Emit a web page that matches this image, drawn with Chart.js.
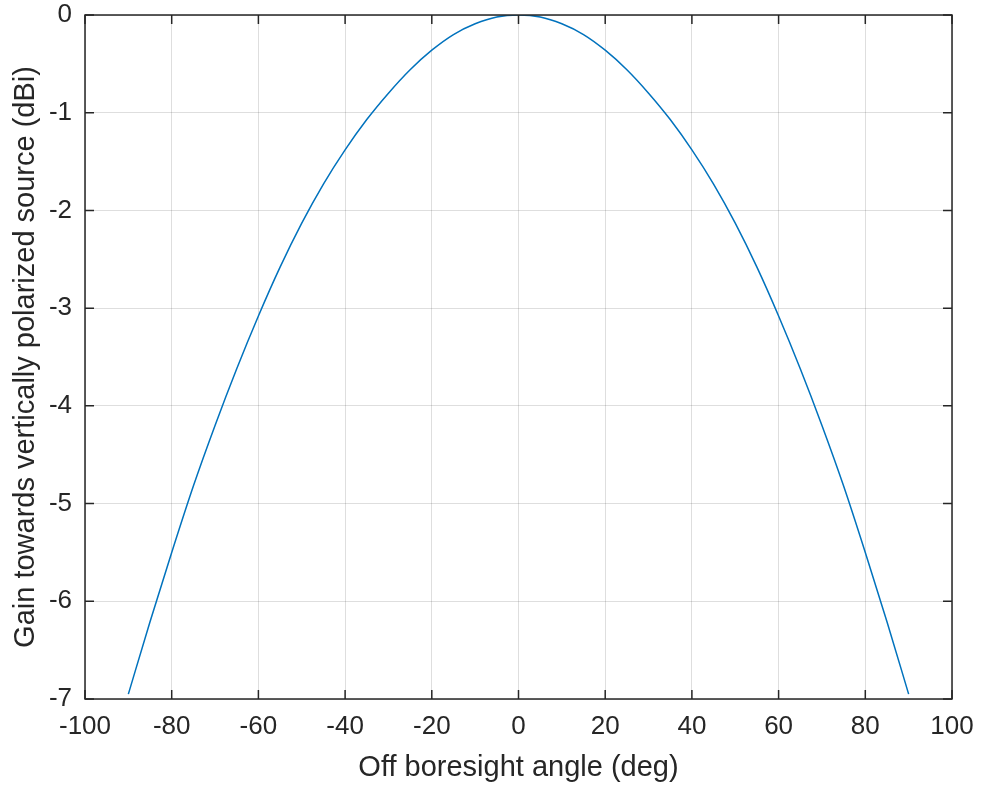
<!DOCTYPE html>
<html>
<head>
<meta charset="utf-8">
<script src="https://cdn.jsdelivr.net/npm/chart.js@4.4.1/dist/chart.umd.min.js"></script>
<style>
  html, body { margin: 0; padding: 0; background: #fff; }
  #wrap { width: 981px; height: 790px; }
</style>
</head>
<body>
<div id="wrap"><canvas id="gainChart"></canvas></div>
<script>
// angles (deg) and gain (dBi)
var angles = [-90, -85, -80, -75, -70, -65, -60, -55, -50, -45, -40, -35, -30, -25, -20, -15, -10, -5, 0,
              5, 10, 15, 20, 25, 30, 35, 40, 45, 50, 55, 60, 65, 70, 75, 80, 85, 90];
var gain = [-6.95, -6.21, -5.50, -4.82, -4.20, -3.62, -3.08, -2.58, -2.13, -1.73, -1.38, -1.07, -0.80, -0.56, -0.36, -0.20, -0.09, -0.02, 0,
            -0.02, -0.09, -0.20, -0.36, -0.56, -0.80, -1.07, -1.38, -1.73, -2.13, -2.58, -3.08, -3.62, -4.20, -4.82, -5.50, -6.21, -6.95];
var xTicks = [-100, -80, -60, -40, -20, 0, 20, 40, 60, 80, 100];
var yTicks = [-7, -6, -5, -4, -3, -2, -1, 0];

var textColor = '#262626';
var fontFamily = '"Liberation Sans", Arial, Helvetica, sans-serif';

var points = angles.map(function (a, i) {
  return { x: a, y: gain[i] };
});

// MATLAB style box with inward ticks
var boxPlugin = {
  id: 'boxTicks',
  afterDraw: function (chart) {
    var ctx = chart.ctx;
    var area = chart.chartArea;
    var xs = chart.scales.x;
    var ys = chart.scales.y;
    var len = 9;
    ctx.save();
    ctx.strokeStyle = textColor;
    ctx.lineWidth = 1.5;
    ctx.strokeRect(area.left, area.top, area.right - area.left, area.bottom - area.top);
    ctx.beginPath();
    xTicks.forEach(function (t) {
      var px = xs.getPixelForValue(t);
      ctx.moveTo(px, area.bottom);
      ctx.lineTo(px, area.bottom - len);
      ctx.moveTo(px, area.top);
      ctx.lineTo(px, area.top + len);
    });
    yTicks.forEach(function (t) {
      var py = ys.getPixelForValue(t);
      ctx.moveTo(area.left, py);
      ctx.lineTo(area.left + len, py);
      ctx.moveTo(area.right, py);
      ctx.lineTo(area.right - len, py);
    });
    ctx.stroke();
    ctx.restore();
  }
};

var ctx = document.getElementById('gainChart').getContext('2d');
var chart = new Chart(ctx, {
  type: 'line',
  data: {
    datasets: [{
      data: points,
      borderColor: '#0072BD',
      borderWidth: 1.5,
      pointRadius: 0,
      fill: false,
      cubicInterpolationMode: 'monotone'
    }]
  },
  options: {
    responsive: true,
    maintainAspectRatio: false,
    animation: false,
    layout: { padding: { top: 15, right: 29, left: 0, bottom: 0 } },
    plugins: {
      legend: { display: false },
      tooltip: { enabled: false }
    },
    scales: {
      x: {
        type: 'linear',
        min: -100,
        max: 100,
        afterFit: function (scale) {
          scale.height = 91;
          scale.paddingLeft = 0;
          scale.paddingRight = 0;
        },
        afterBuildTicks: function (scale) {
          scale.ticks = xTicks.map(function (v) { return { value: v }; });
        },
        ticks: {
          color: textColor,
          padding: 12,
          maxRotation: 0,
          autoSkip: false,
          font: { family: fontFamily, size: 26 }
        },
        grid: { color: 'rgba(0,0,0,0.13)', lineWidth: 1, drawTicks: false },
        border: { display: false },
        title: {
          display: true,
          text: 'Off boresight angle (deg)',
          color: textColor,
          font: { family: fontFamily, size: 29 },
          padding: { top: 0, bottom: 5 }
        }
      },
      y: {
        type: 'linear',
        min: -7,
        max: 0,
        afterFit: function (scale) {
          scale.width = 85;
          scale.paddingTop = 0;
          scale.paddingBottom = 0;
        },
        afterBuildTicks: function (scale) {
          scale.ticks = yTicks.map(function (v) { return { value: v }; });
        },
        ticks: {
          color: textColor,
          padding: 13,
          autoSkip: false,
          font: { family: fontFamily, size: 26 }
        },
        grid: { color: 'rgba(0,0,0,0.13)', lineWidth: 1, drawTicks: false },
        border: { display: false },
        title: {
          display: true,
          text: 'Gain towards vertically polarized source (dBi)',
          color: textColor,
          font: { family: fontFamily, size: 29 },
          padding: { top: 9, bottom: 0 }
        }
      }
    }
  },
  plugins: [boxPlugin]
});
</script>
</body>
</html>
